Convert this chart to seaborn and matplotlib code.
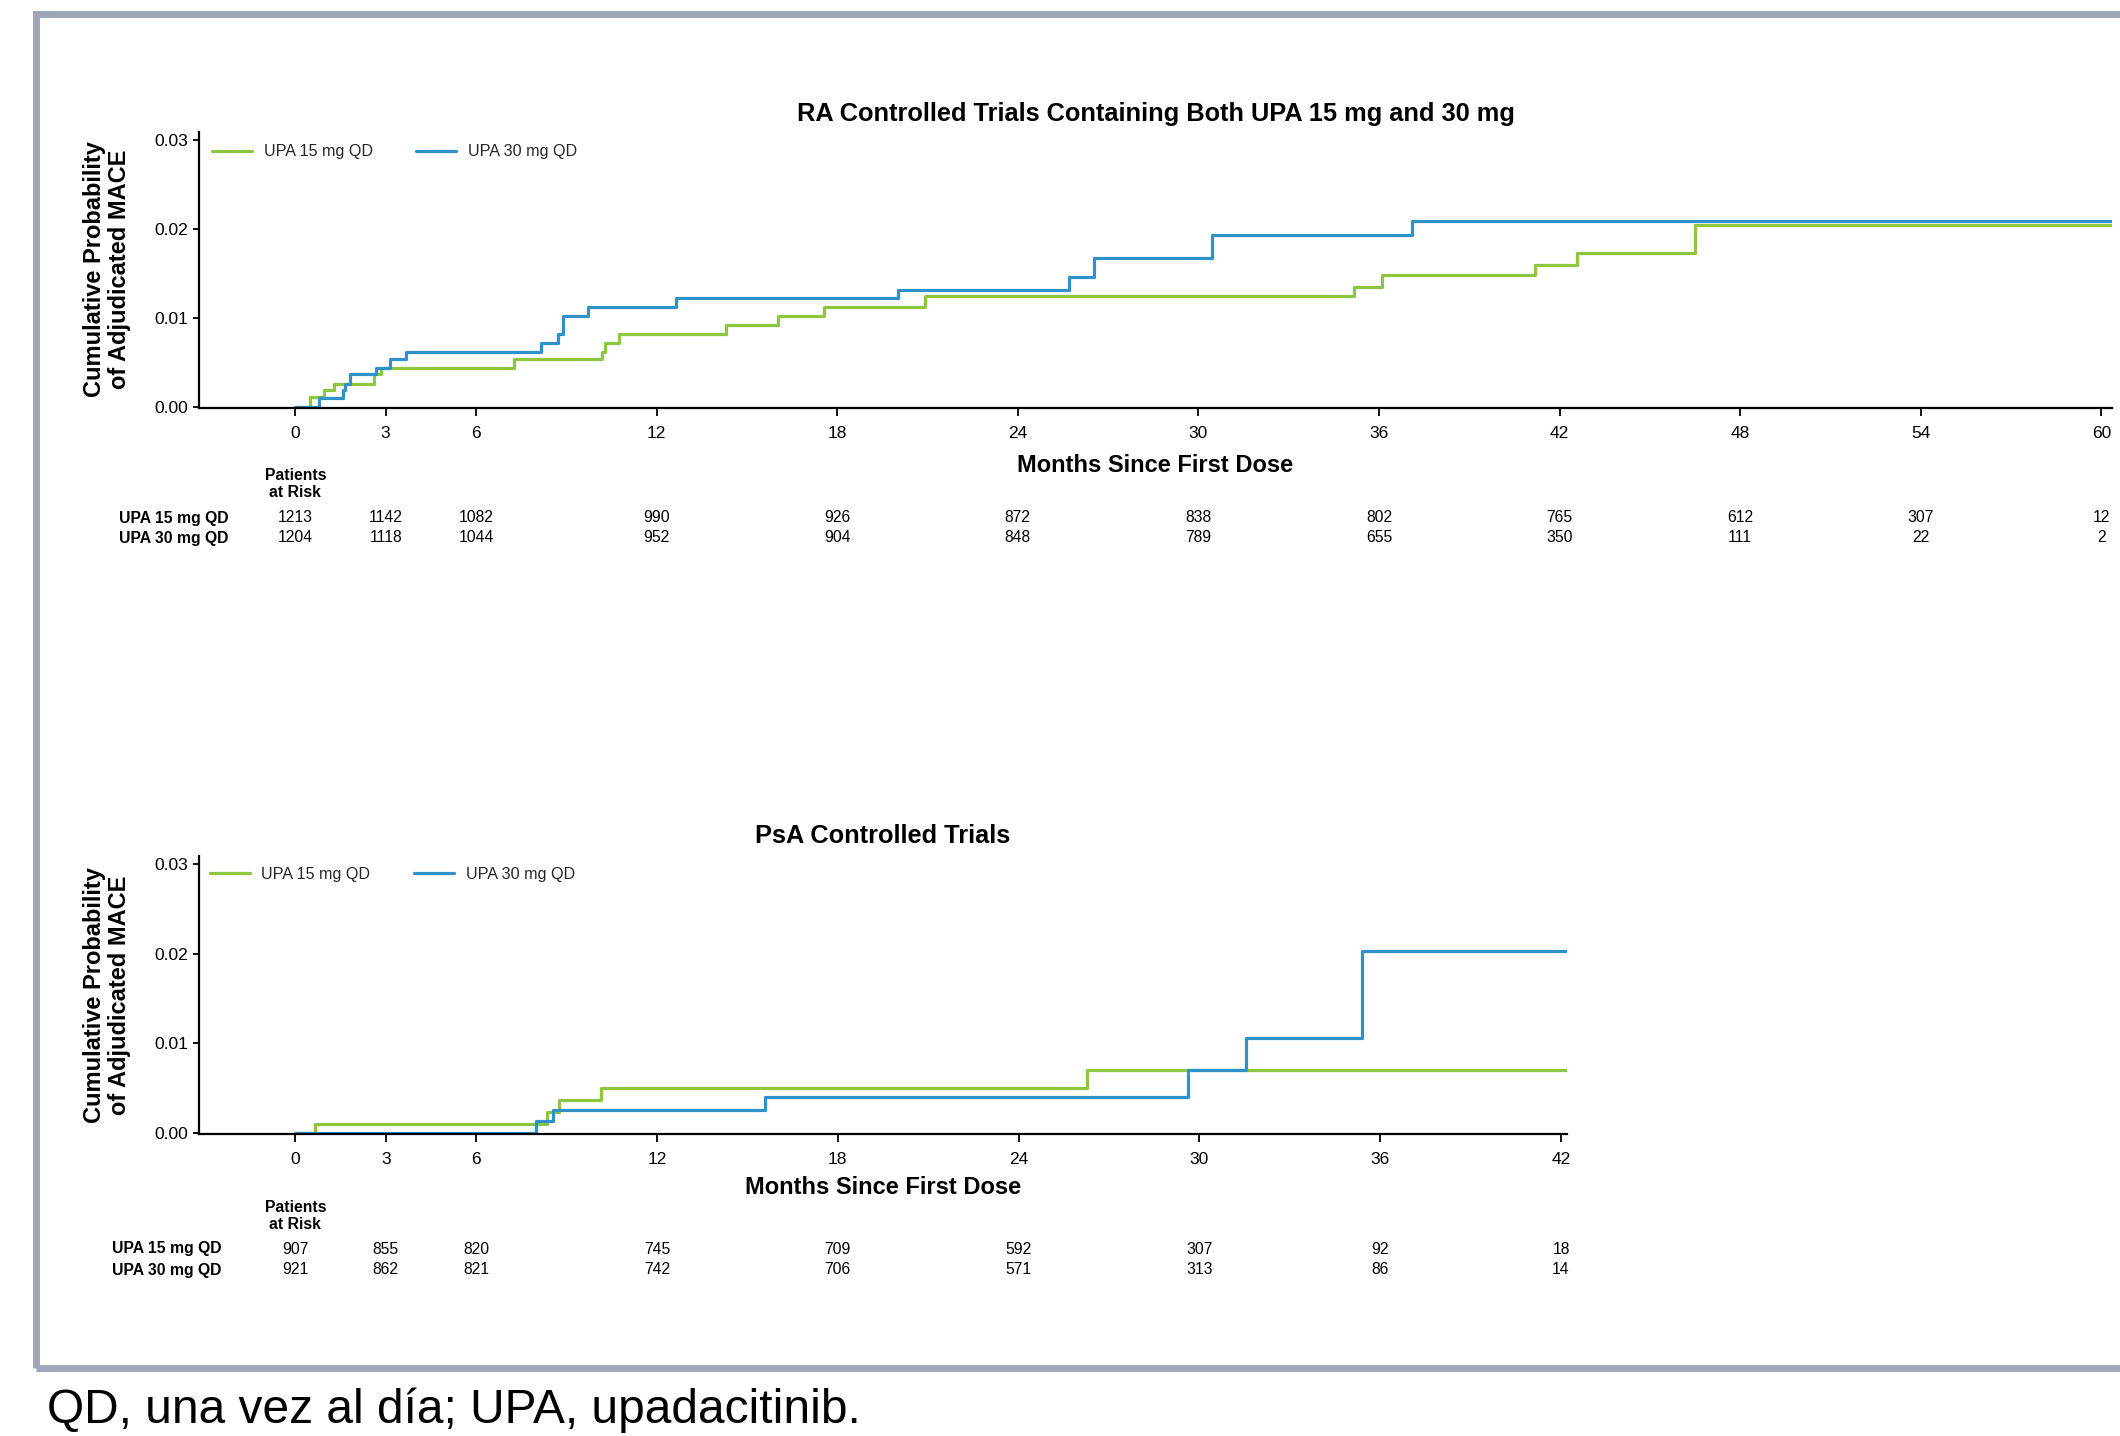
import numpy as np
import pandas as pd
import matplotlib
matplotlib.use("Agg")
import matplotlib.pyplot as plt
import seaborn as sns
from matplotlib.transforms import blended_transform_factory
from matplotlib.patches import Rectangle

# ---------------- data ----------------
series_labels = ["UPA 15 mg QD", "UPA 30 mg QD"]

# RA controlled trials (Kaplan-Meier step points: months, cumulative probability)
ra_15_months = [0, 0.5, 0.96, 1.27, 2.6, 2.83, 7.26, 10.18, 10.3, 10.75, 14.3, 16.05,
                17.56, 20.93, 35.17, 36.1, 41.18, 42.58, 46.5, 60.4]
ra_15_prob = [0, 0.0011, 0.0019, 0.0026, 0.0037, 0.0044, 0.0054, 0.0062, 0.0072, 0.0082,
              0.0092, 0.0102, 0.0112, 0.0125, 0.0135, 0.0148, 0.0160, 0.0173, 0.0204, 0.0204]
ra_30_months = [0, 0.77, 1.58, 1.65, 1.8, 2.68, 3.16, 3.67, 8.17, 8.73, 8.9, 9.72, 12.64,
                20.01, 25.71, 26.54, 30.44, 37.1, 60.4]
ra_30_prob = [0, 0.0010, 0.0019, 0.0026, 0.0037, 0.0044, 0.0054, 0.0062, 0.0072, 0.0082,
              0.0102, 0.0112, 0.0122, 0.0132, 0.0146, 0.0168, 0.0193, 0.0209, 0.0209]

# PsA controlled trials
psa_15_months = [0, 0.66, 8.35, 8.76, 10.15, 26.27, 42.2]
psa_15_prob = [0, 0.0010, 0.0024, 0.0037, 0.0050, 0.0070, 0.0070]
psa_30_months = [0, 7.97, 8.54, 15.6, 29.61, 31.54, 35.39, 42.2]
psa_30_prob = [0, 0.0013, 0.0026, 0.0040, 0.0070, 0.0106, 0.0203, 0.0203]

# Patients at risk
ra_risk_months = [0, 3, 6, 12, 18, 24, 30, 36, 42, 48, 54, 60]
ra_risk_15 = [1213, 1142, 1082, 990, 926, 872, 838, 802, 765, 612, 307, 12]
ra_risk_30 = [1204, 1118, 1044, 952, 904, 848, 789, 655, 350, 111, 22, 2]
psa_risk_months = [0, 3, 6, 12, 18, 24, 30, 36, 42]
psa_risk_15 = [907, 855, 820, 745, 709, 592, 307, 92, 18]
psa_risk_30 = [921, 862, 821, 742, 706, 571, 313, 86, 14]

ra_title = "RA Controlled Trials Containing Both UPA 15 mg and 30 mg"
psa_title = "PsA Controlled Trials"
x_label = "Months Since First Dose"
y_label = "Cumulative Probability\nof Adjudicated MACE"
footnote = "QD, una vez al día; UPA, upadacitinib."

# ---------------- style ----------------
sns.set_theme(style="ticks")
plt.rcParams["font.family"] = ["Liberation Sans", "DejaVu Sans"]

GREEN = "#8DC63F"
BLUE = "#2E93CB"
palette = {series_labels[0]: GREEN, series_labels[1]: BLUE}

W, H = 2120, 1436
fig = plt.figure(figsize=(W / 100, H / 100), dpi=100)


def frac_x(px):
    return px / W


def frac_y(py):
    return 1 - py / H


def make_df(m15, p15, m30, p30):
    return pd.concat([
        pd.DataFrame({"month": m15, "prob": p15, "group": series_labels[0]}),
        pd.DataFrame({"month": m30, "prob": p30, "group": series_labels[1]}),
    ], ignore_index=True)


def draw_panel(rect, df, xmax, xticks, title, title_y, xlabel_y, ylabel_y,
               legend_anchor, risk_months, risk15, risk30, risk_rows_y,
               par_y, rowlab_x):
    ax = fig.add_axes(rect)
    sns.lineplot(data=df, x="month", y="prob", hue="group", palette=palette,
                 drawstyle="steps-post", estimator=None, errorbar=None,
                 linewidth=2.3, ax=ax)
    ax.set_xlim(-3.2, xmax)
    ax.set_ylim(-0.0001, 0.0309)
    ax.set_xticks(xticks)
    ax.set_xticklabels([str(t) for t in xticks])
    ax.set_yticks([0, 0.01, 0.02, 0.03])
    ax.set_yticklabels(["0.00", "0.01", "0.02", "0.03"])
    ax.set_xlabel("")
    ax.set_ylabel("")
    for s in ["top", "right"]:
        ax.spines[s].set_visible(False)
    for s in ["left", "bottom"]:
        ax.spines[s].set_color("black")
        ax.spines[s].set_linewidth(1.6)
    ax.tick_params(axis="x", length=6, width=1.3, pad=7, labelsize=12.5, colors="black")
    ax.tick_params(axis="y", length=4, width=1.3, pad=4, labelsize=12.5, colors="black")
    ax.set_facecolor("white")

    handles, labels = ax.get_legend_handles_labels()
    ax.legend(handles, labels, ncol=2, loc="upper left", bbox_to_anchor=legend_anchor,
              frameon=False, fontsize=11.6, handlelength=2.5, handletextpad=0.7,
              columnspacing=2.7, borderaxespad=0, borderpad=0)

    tf = blended_transform_factory(ax.transAxes, fig.transFigure)
    ax.text(0.5, title_y, title, transform=tf, ha="center", va="center",
            fontsize=18.3, fontweight="bold", color="black")
    ax.text(0.5, xlabel_y, x_label, transform=tf, ha="center", va="center",
            fontsize=17, fontweight="bold", color="black")
    fig.text(0.0505, ylabel_y, y_label, rotation=90, ha="center", va="center",
             fontsize=17, fontweight="bold", multialignment="center",
             linespacing=1.15, color="black")

    td = blended_transform_factory(ax.transData, fig.transFigure)
    ax.text(0, par_y, "Patients\nat Risk", transform=td, ha="center", va="center",
            fontsize=11.3, fontweight="bold", linespacing=1.2, color="black")
    for lab, y in zip(series_labels, risk_rows_y):
        fig.text(rowlab_x, y, lab, ha="left", va="center", fontsize=11.3,
                 fontweight="bold", color="black")
    for m, a, b in zip(risk_months, risk15, risk30):
        ax.text(m, risk_rows_y[0], str(a), transform=td, ha="center", va="center",
                fontsize=11.3, color="black")
        ax.text(m, risk_rows_y[1], str(b), transform=td, ha="center", va="center",
                fontsize=11.3, color="black")
    return ax


# top panel (RA)
top_rect = [frac_x(199), frac_y(408), (2112 - 199) / W, (408 - 132) / H]
draw_panel(top_rect, make_df(ra_15_months, ra_15_prob, ra_30_months, ra_30_prob),
           60.35, ra_risk_months, ra_title, frac_y(114), frac_y(466), frac_y(269),
           (0.0068, 0.955), ra_risk_months, ra_risk_15, ra_risk_30,
           (frac_y(518), frac_y(538)), frac_y(484), frac_x(119))

# bottom panel (PsA)
bot_rect = [frac_x(199), frac_y(1134), (1567 - 199) / W, (1134 - 856) / H]
draw_panel(bot_rect, make_df(psa_15_months, psa_15_prob, psa_30_months, psa_30_prob),
           42.2, psa_risk_months, psa_title, frac_y(836), frac_y(1187), frac_y(995),
           (0.008, 0.962), psa_risk_months, psa_risk_15, psa_risk_30,
           (frac_y(1249), frac_y(1270)), frac_y(1216), frac_x(112))

# outer frame
frame = Rectangle((frac_x(35.5), frac_y(1368)), 1.2, frac_y(14) - frac_y(1368),
                  transform=fig.transFigure, fill=False, edgecolor="#9EA6B8",
                  linewidth=5, zorder=0)
fig.patches.append(frame)

fig.text(frac_x(47), frac_y(1410), footnote, ha="left", va="center",
         fontsize=34.5, color="black")

fig.savefig("out.png", dpi=100, facecolor="white")
